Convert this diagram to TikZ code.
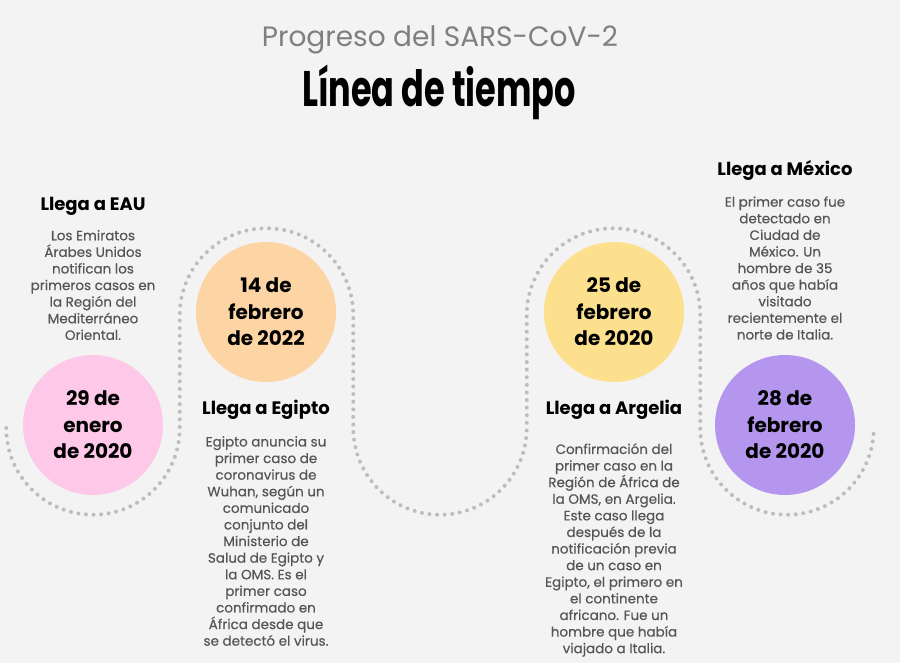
\documentclass[tikz,border=0pt]{standalone}
\usepackage{fontspec}
\setmainfont{Poppins}
\newfontfamily\titlefont{Poppins}[FakeStretch=0.67]
\newfontfamily\bodyfont{Poppins}[FakeBold=0.4]
\definecolor{bgc}{HTML}{F3F3F3}
\definecolor{dotc}{HTML}{BDBDBD}
\definecolor{bodyc}{HTML}{555555}
\definecolor{subc}{HTML}{7F7F7F}
\definecolor{pinkc}{HTML}{FEC8E9}
\definecolor{peachc}{HTML}{FDD5A5}
\definecolor{yellowc}{HTML}{FDE08E}
\definecolor{purplec}{HTML}{B496EE}
\tikzset{
  datec/.style={circle, minimum size=140pt, inner sep=0pt, align=center,
    font=\fontsize{20}{26.5}\selectfont\bfseries, text=black},
  headc/.style={inner sep=0pt, font=\fontsize{18}{22}\selectfont\bfseries, text=black},
  bodyt/.style={inner sep=0pt, align=center, font=\bodyfont\fontsize{13.5}{16.6}\selectfont, text=bodyc},
  dotline/.style={draw=dotc, line width=4pt, line cap=round, dash pattern=on 0pt off 7.6pt}
}
\begin{document}
\begin{tikzpicture}[x=1pt,y=1pt]
\fill[bgc] (0,0) rectangle (900,-663);
\useasboundingbox (0,0) rectangle (900,-663);
% titles
\node[inner sep=0pt, text=subc, font=\fontsize{28}{32}\selectfont] (sub) at (440,-40) {Progreso del SARS-CoV-2};
\node[inner sep=0pt, text=black, font=\titlefont\fontsize{50}{56}\selectfont\bfseries] (title) at (439,-92) {Línea de tiempo};
% dotted path
\draw[dotline] (6.25,-428) arc[start angle=180, end angle=360, radius=86.75pt]
  -- (179.75,-315) arc[start angle=180, end angle=0, radius=86.75pt]
  -- (353.25,-428) arc[start angle=180, end angle=360, radius=86.75pt]
  -- (526.75,-315) arc[start angle=180, end angle=0, radius=86.75pt]
  -- (700.25,-428) arc[start angle=180, end angle=360, radius=86.75pt];
% circles
\node[datec, fill=pinkc] (d1) at (93,-425) {29 de\\enero\\de 2020};
\node[datec, fill=peachc] (d2) at (266,-312) {14 de\\febrero\\de 2022};
\node[datec, fill=yellowc] (d3) at (614,-312) {25 de\\febrero\\de 2020};
\node[datec, fill=purplec] (d4) at (785,-425) {28 de\\febrero\\de 2020};
% headings
\node[headc] (h1) at (93,-206) {Llega a EAU};
\node[headc] (h2) at (266,-410) {Llega a Egipto};
\node[headc] (h3) at (614,-410) {Llega a Argelia};
\node[headc] (h4) at (785,-170) {Llega a México};
% bodies
\node[bodyt] (b1) at (93,-285) {Los Emiratos\\Árabes Unidos\\notifican los\\primeros casos en\\la Región del\\Mediterráneo\\Oriental.};
\node[bodyt] (b2) at (266,-541) {Egipto anuncia su\\primer caso de\\coronavirus de\\Wuhan, según un\\comunicado\\conjunto del\\Ministerio de\\Salud de Egipto y\\la OMS. Es el\\primer caso\\confirmado en\\África desde que\\se detectó el virus.};
\node[bodyt] (b3) at (614,-550) {Confirmación del\\primer caso en la\\Región de África de\\la OMS, en Argelia.\\Este caso llega\\después de la\\notificación previa\\de un caso en\\Egipto, el primero en\\el continente\\africano. Fue un\\hombre que había\\viajado a Italia.};
\node[bodyt] (b4) at (785,-268) {El primer caso fue\\detectado en\\Ciudad de\\México. Un\\hombre de 35\\años que había\\visitado\\recientemente el\\norte de Italia.};
\end{tikzpicture}
\end{document}
